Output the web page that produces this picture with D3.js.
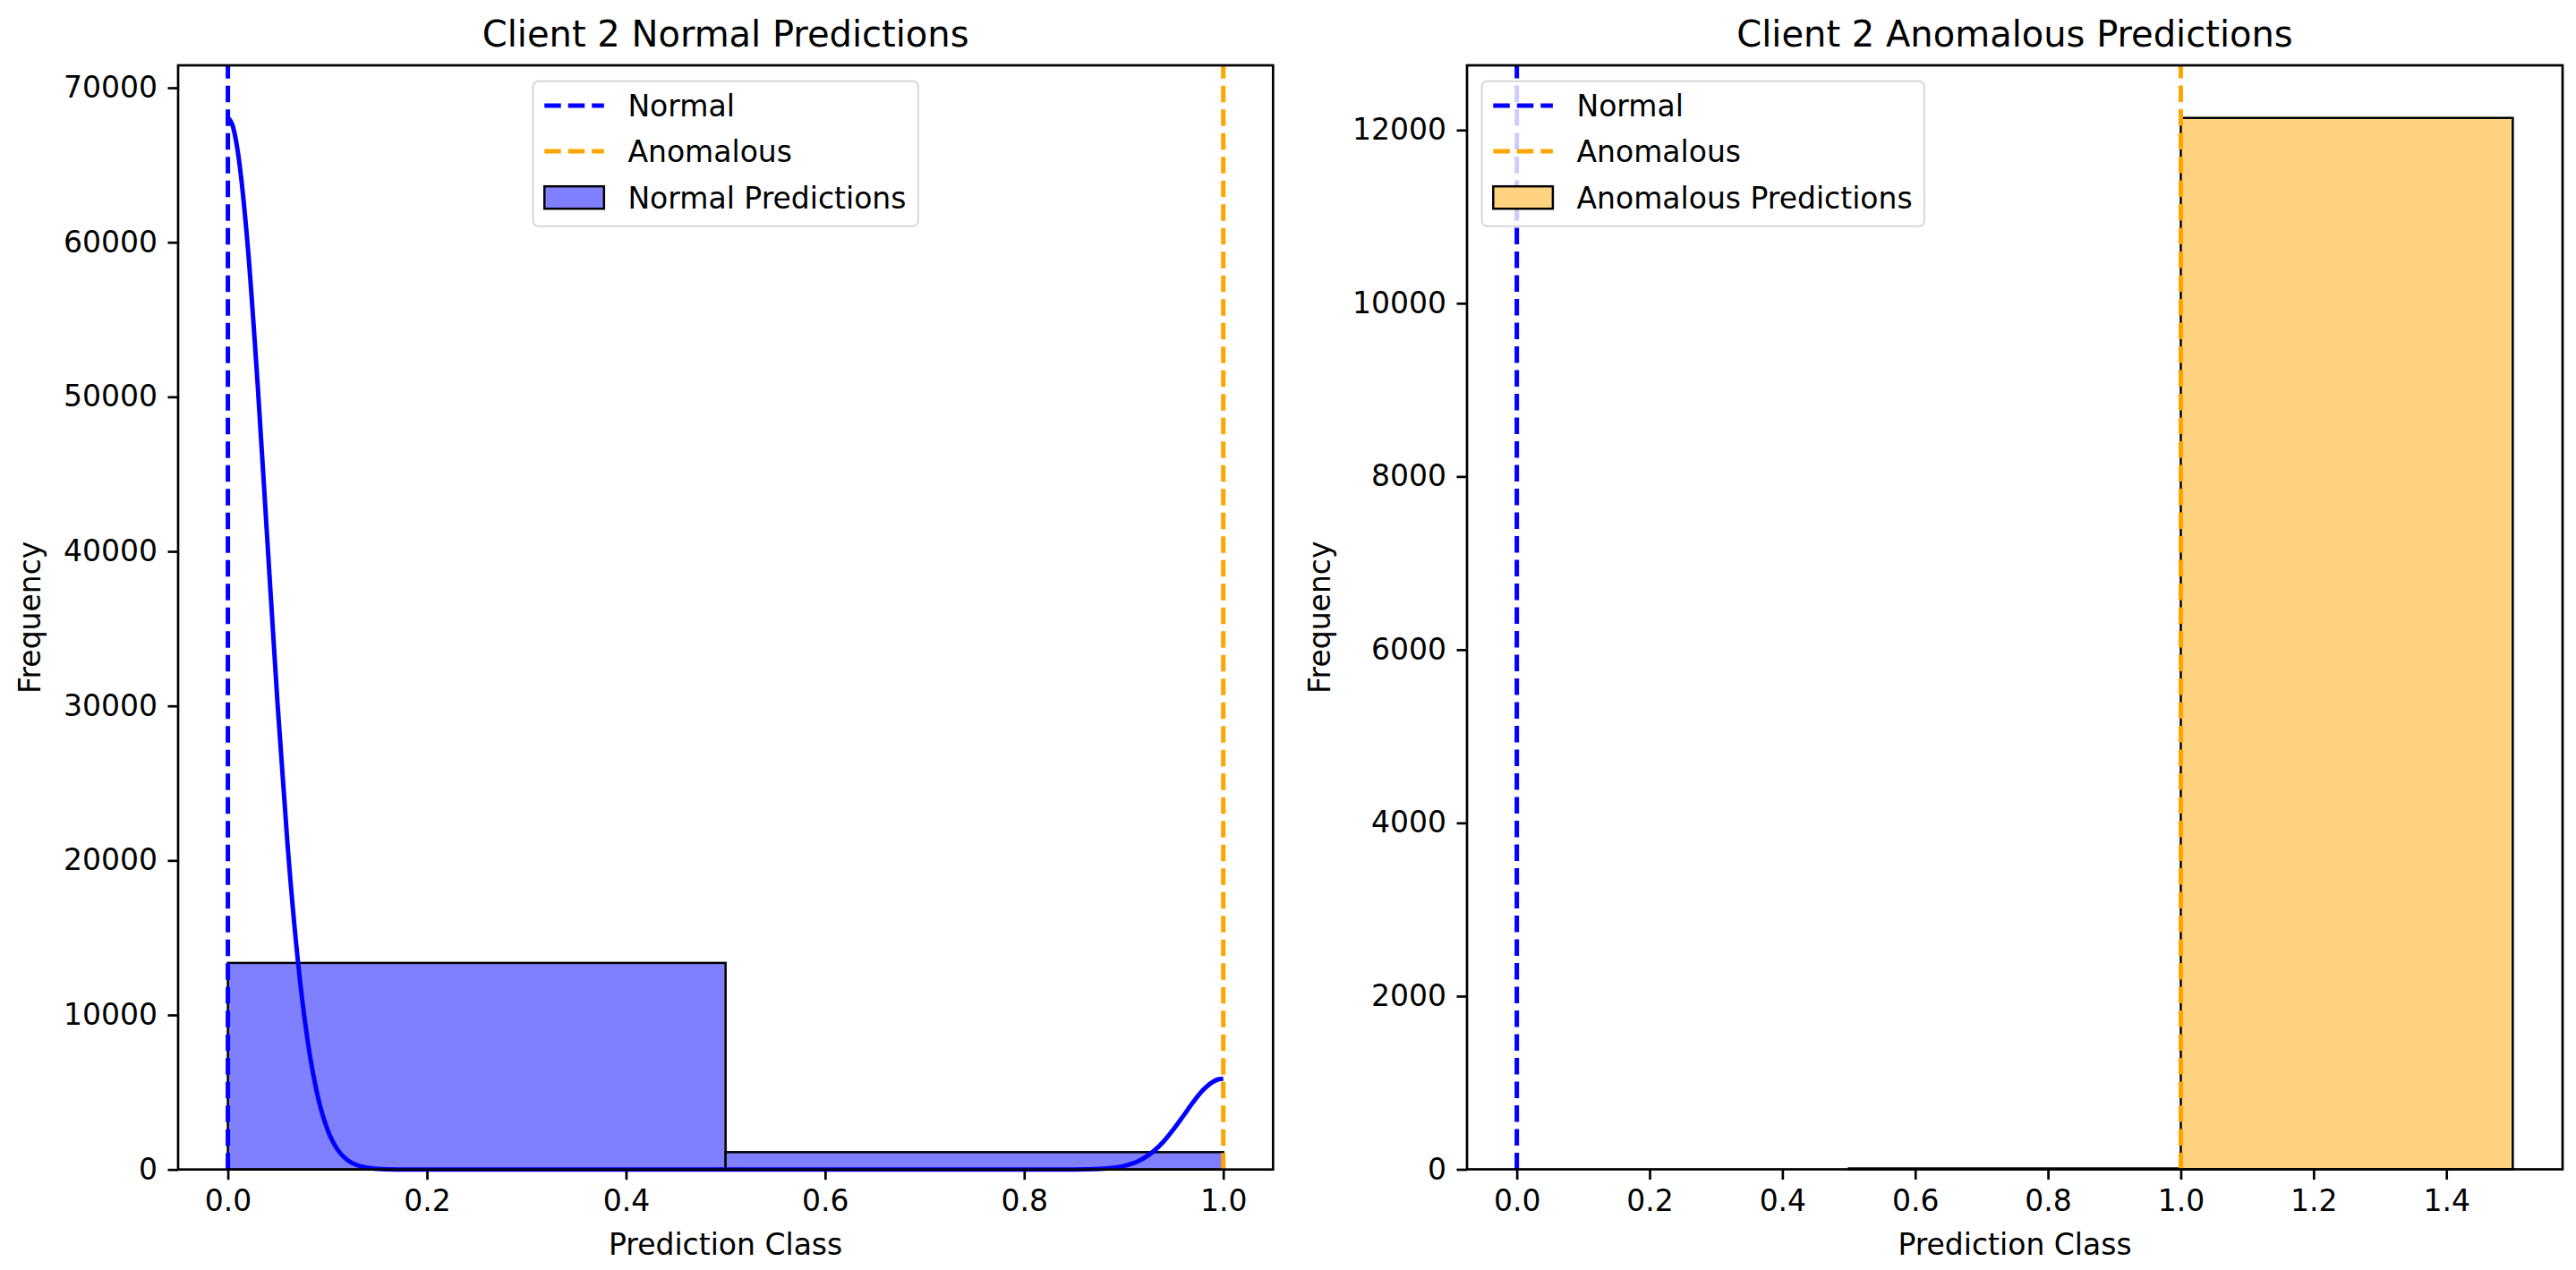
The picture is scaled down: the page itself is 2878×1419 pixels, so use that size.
<!DOCTYPE html>
<html><head><meta charset="utf-8">
<script src="https://cdn.jsdelivr.net/npm/d3@7"></script>
<style>
html,body{margin:0;padding:0;background:#fff;}
svg{display:block;}
text{font-family:"DejaVu Sans",sans-serif;fill:#000;}
</style>
</head><body>
<svg id="chart" width="2878" height="1419"></svg>
<script>
// ---------------- data ----------------
const titles = ["Client 2 Normal Predictions", "Client 2 Anomalous Predictions"];
const xLabel = "Prediction Class";
const yLabel = "Frequency";

// histogram bins (edges) and counts
const normalBinEdges = [0.0, 0.5, 1.0];
const normalCounts = [13368, 1123];
const anomalousBinEdges = [0.5, 1.0, 1.5];
const anomalousCounts = [10, 12140];

// KDE curve of the normal predictions
const kdeX = [0, 0.005, 0.01, 0.02, 0.03, 0.04, 0.05, 0.06, 0.07, 0.08, 0.09, 0.10, 0.11, 0.12, 0.13, 0.14, 0.15, 0.16, 0.18, 0.20, 0.30, 0.40, 0.50, 0.60, 0.70, 0.80, 0.82, 0.84, 0.85, 0.86, 0.87, 0.88, 0.89, 0.90, 0.91, 0.92, 0.93, 0.94, 0.95, 0.96, 0.97, 0.98, 0.99, 0.995, 1.00];
const kdeY = [68050, 67500, 65860, 59710, 50700, 40330, 30040, 20970, 13700, 8390, 4820, 2590, 1300, 613, 271, 112, 43, 16, 2, 0, 0, 0, 0, 0, 0, 0, 0, 1, 3, 9, 23, 53, 112, 225, 415, 725, 1185, 1810, 2600, 3480, 4380, 5160, 5690, 5832, 5880];

// reference lines
const refLineValues = [0, 1];
const refLineNames = ["Normal", "Anomalous"];
const refLineColors = ["#0000ff", "#ffa500"];

// axis limits and ticks
const normalXDomain = [-0.05, 1.05];
const normalYDomain = [0, 71450];
const anomalousXDomain = [-0.075, 1.575];
const anomalousYDomain = [0, 12747];
const normalXTicks = [0, 0.2, 0.4, 0.6, 0.8, 1.0];
const normalYTicks = [0, 10000, 20000, 30000, 40000, 50000, 60000, 70000];
const anomalousXTicks = [0, 0.2, 0.4, 0.6, 0.8, 1.0, 1.2, 1.4];
const anomalousYTicks = [0, 2000, 4000, 6000, 8000, 10000, 12000];

const histNames = ["Normal Predictions", "Anomalous Predictions"];
const histFills = ["#8080ff", "#ffd280"];

// ---------------- layout ----------------
const svg = d3.select("#chart");
const FS = 33, TITLE_FS = 40;
const TICK = 11.5, PAD = 11.5, LW = 2.7;

const panels = [
  {x0:199, x1:1422.3, y0:73, y1:1306.7, xd:normalXDomain, yd:normalYDomain,
   xt:normalXTicks, yt:normalYTicks, edges:normalBinEdges, counts:normalCounts,
   kde:true, title:titles[0], hist:histNames[0], fill:histFills[0], legendPos:"center", yLabelX:45},
  {x0:1639, x1:2863, y0:73, y1:1306.5, xd:anomalousXDomain, yd:anomalousYDomain,
   xt:anomalousXTicks, yt:anomalousYTicks, edges:anomalousBinEdges, counts:anomalousCounts,
   kde:false, title:titles[1], hist:histNames[1], fill:histFills[1], legendPos:"left", yLabelX:1486}
];

panels.forEach(p => {
  const x = d3.scaleLinear().domain(p.xd).range([p.x0, p.x1]);
  const y = d3.scaleLinear().domain(p.yd).range([p.y1, p.y0]);
  const g = svg.append("g");

  // bars
  const bins = p.counts.map((c, i) => ({a: p.edges[i], b: p.edges[i+1], c}));
  g.selectAll("rect.bar").data(bins).join("rect")
    .attr("class", "bar")
    .attr("x", d => x(d.a)).attr("width", d => x(d.b) - x(d.a))
    .attr("y", d => y(d.c)).attr("height", d => y(0) - y(d.c))
    .attr("fill", p.fill).attr("stroke", "#000").attr("stroke-width", 2.5);

  // kde
  if (p.kde) {
    const pts = kdeX.map((v, i) => [v, kdeY[i]]);
    g.append("path").datum(pts)
      .attr("d", d3.line().x(d => x(d[0])).y(d => y(d[1])).curve(d3.curveMonotoneX))
      .attr("fill", "none").attr("stroke", "#0000ff").attr("stroke-width", 5)
      .attr("stroke-linejoin", "round");
  }

  // reference lines (drawn from bottom to top like matplotlib)
  refLineValues.forEach((v, i) => {
    g.append("line")
      .attr("x1", x(v)).attr("x2", x(v)).attr("y1", p.y1).attr("y2", p.y0)
      .attr("stroke", refLineColors[i]).attr("stroke-width", 5)
      .attr("stroke-dasharray", "18.5,8");
  });

  // axes
  const xAxis = d3.axisBottom(x).tickValues(p.xt).tickFormat(d3.format(".1f"))
    .tickSize(TICK).tickPadding(PAD);
  const yAxis = d3.axisLeft(y).tickValues(p.yt).tickFormat(d3.format("d"))
    .tickSize(TICK).tickPadding(PAD);
  const gx = g.append("g").attr("transform", `translate(0,${p.y1})`).call(xAxis);
  const gy = g.append("g").attr("transform", `translate(${p.x0},0)`).call(yAxis);
  [gx, gy].forEach(a => {
    a.select(".domain").remove();
    a.selectAll("line").attr("stroke", "#000").attr("stroke-width", LW);
    a.selectAll("text").attr("font-size", FS).attr("font-family", "DejaVu Sans").attr("fill", "#000");
  });

  // spines
  g.append("rect").attr("x", p.x0).attr("y", p.y0)
    .attr("width", p.x1 - p.x0).attr("height", p.y1 - p.y0)
    .attr("fill", "none").attr("stroke", "#000").attr("stroke-width", LW);

  // title and labels
  const cx = (p.x0 + p.x1) / 2;
  g.append("text").attr("x", cx).attr("y", 52).attr("text-anchor", "middle")
    .attr("font-size", TITLE_FS).text(p.title);
  g.append("text").attr("x", cx).attr("y", 1402).attr("text-anchor", "middle")
    .attr("font-size", FS).text(xLabel);
  g.append("text").attr("transform", `translate(${p.yLabelX},${(p.y0 + p.y1) / 2}) rotate(-90)`)
    .attr("text-anchor", "middle").attr("font-size", FS).text(yLabel);

  // legend
  const entries = [
    {type: "line", color: refLineColors[0], label: refLineNames[0]},
    {type: "line", color: refLineColors[1], label: refLineNames[1]},
    {type: "patch", color: p.fill, label: p.hist}
  ];
  const lg = g.append("g");
  const frame = lg.append("rect");
  const texts = [];
  const rowY = [27.3, 78.3, 130];
  entries.forEach((e, i) => {
    const t = lg.append("text").attr("font-size", FS).attr("x", 12.7 + 66.6 + 26.6)
      .attr("y", rowY[i] + 12).text(e.label);
    texts.push(t);
    if (e.type === "line") {
      lg.append("line").attr("x1", 12.7).attr("x2", 12.7 + 66.6)
        .attr("y1", rowY[i]).attr("y2", rowY[i])
        .attr("stroke", e.color).attr("stroke-width", 5).attr("stroke-dasharray", "18.5,8");
    } else {
      lg.append("rect").attr("x", 12.7).attr("y", rowY[i] - 12.5)
        .attr("width", 66.6).attr("height", 25)
        .attr("fill", e.color).attr("stroke", "#000").attr("stroke-width", 2.5);
    }
  });
  const maxW = d3.max(texts, t => t.node().getComputedTextLength());
  const w = 12.7 + 66.6 + 26.6 + maxW + 13.3;
  const h = 162;
  frame.attr("x", 0).attr("y", 0).attr("width", w).attr("height", h)
    .attr("rx", 6).attr("ry", 6)
    .attr("fill", "#fff").attr("fill-opacity", 0.8)
    .attr("stroke", "#d6d6d6").attr("stroke-width", 2);
  const lx = p.legendPos === "center" ? cx - w / 2 : p.x0 + 16.6;
  lg.attr("transform", `translate(${lx},${p.y0 + 17.7})`);
});
</script>
</body></html>
